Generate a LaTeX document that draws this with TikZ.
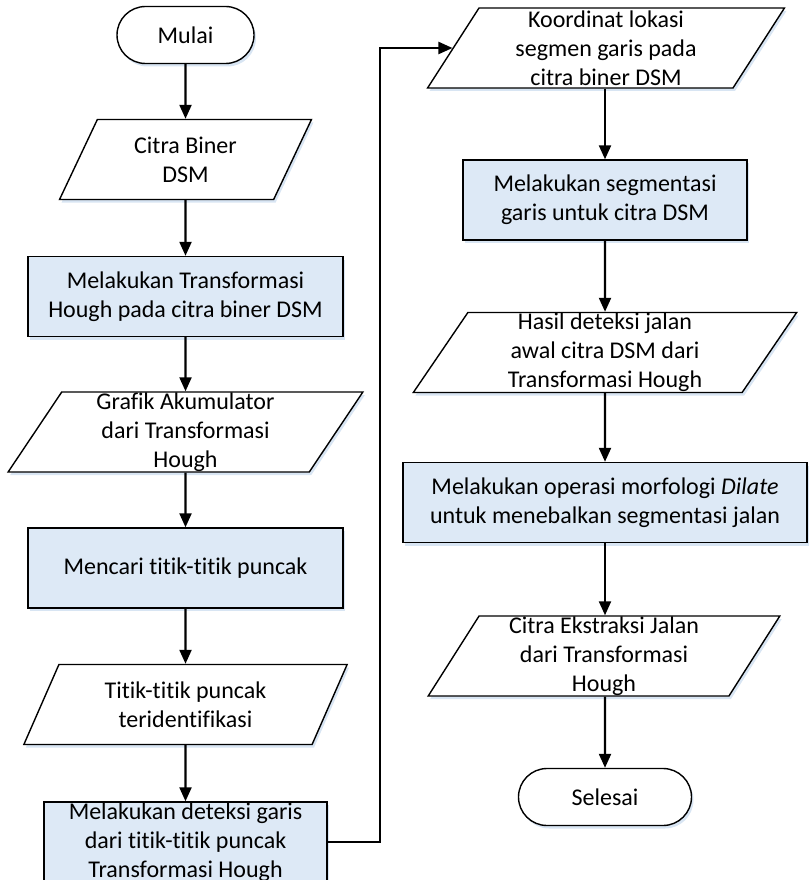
\documentclass[tikz,border=0pt]{standalone}
\usepackage{fontspec}
\setmainfont[Ligatures=NoCommon]{Carlito}
\usetikzlibrary{shapes.geometric, shapes.misc, arrows.meta, shadows}

\definecolor{procfill}{RGB}{221,233,246}
\definecolor{shadowblue}{RGB}{200,218,238}

\begin{document}
\begin{tikzpicture}[x=1pt, y=-1pt,
        base/.style={draw, line width=1.4pt, align=center, inner xsep=2pt, inner ysep=0pt,
            font=\fontsize{24}{29}\selectfont,
            drop shadow={shadow xshift=2pt, shadow yshift=-3pt, fill=shadowblue, opacity=0.7}},
        term/.style={base, rounded rectangle, fill=white, minimum width=#1, minimum height=57pt},
        proc/.style={base, rectangle, fill=procfill, minimum width=#1, minimum height=80pt},
        io/.style={base, trapezium, trapezium left angle=63.4, trapezium right angle=116.6,
            trapezium stretches=true, fill=white, minimum width=#1, minimum height=80pt},
        arrow/.style={-{Triangle[length=14pt, width=12pt]}, line width=2.2pt}
    ]

    \useasboundingbox (0,0) rectangle (810,880);

    % --- Left column ---
    \node[term=141pt] (mulai) at (185.5, 35) {Mulai};
    \node[io=252pt] (citra) at (185.5, 159.5) {Citra Biner\\DSM};
    \node[proc=315pt] (hough) at (185.5, 296.5) {Melakukan Transformasi\\Hough pada citra biner DSM};
    \node[io=355pt] (grafik) at (185.5, 432) {Grafik Akumulator\\dari Transformasi\\Hough};
    \node[proc=315pt] (puncak) at (185.5, 568) {Mencari titik-titik puncak};
    \node[io=324pt] (titik) at (185.5, 704.5) {Titik-titik puncak\\teridentifikasi};
    \node[proc=283pt] (deteksi) at (185.5, 842) {Melakukan deteksi garis\\dari titik-titik puncak\\Transformasi Hough};

    % --- Right column ---
    \node[io=357pt] (koordinat) at (606, 48) {Koordinat lokasi\\segmen garis pada\\citra biner DSM};
    \node[proc=284pt] (segmen) at (605, 200) {Melakukan segmentasi\\garis untuk citra DSM};
    \node[io=384pt] (hasil) at (605, 352.5) {Hasil deteksi jalan\\awal citra DSM dari\\Transformasi Hough};
    \node[proc=404pt] (dilate) at (605, 502.5) {Melakukan operasi morfologi \textit{Dilate}\\untuk menebalkan segmentasi jalan};
    \node[io=352pt] (ekstraksi) at (604, 656) {Citra Ekstraksi Jalan\\dari Transformasi\\Hough};
    \node[term=177pt] (selesai) at (605, 797) {Selesai};

    % --- Arrows ---
    \draw[arrow] (mulai) -- (citra);
    \draw[arrow] (citra) -- (hough);
    \draw[arrow] (hough) -- (grafik);
    \draw[arrow] (grafik) -- (puncak);
    \draw[arrow] (puncak) -- (titik);
    \draw[arrow] (titik) -- (deteksi);
    \coordinate (turn) at (380, 0);
    \draw[arrow] (deteksi.east) -- (deteksi.east -| turn) |- (koordinat.west);
    \draw[arrow] (koordinat.south -| segmen.north) -- (segmen);
    \draw[arrow] (segmen) -- (hasil);
    \draw[arrow] (hasil) -- (dilate);
    \draw[arrow] (dilate) -- (ekstraksi.north -| dilate.south);
    \draw[arrow] (ekstraksi.south -| selesai.north) -- (selesai);

\end{tikzpicture}
\end{document}
